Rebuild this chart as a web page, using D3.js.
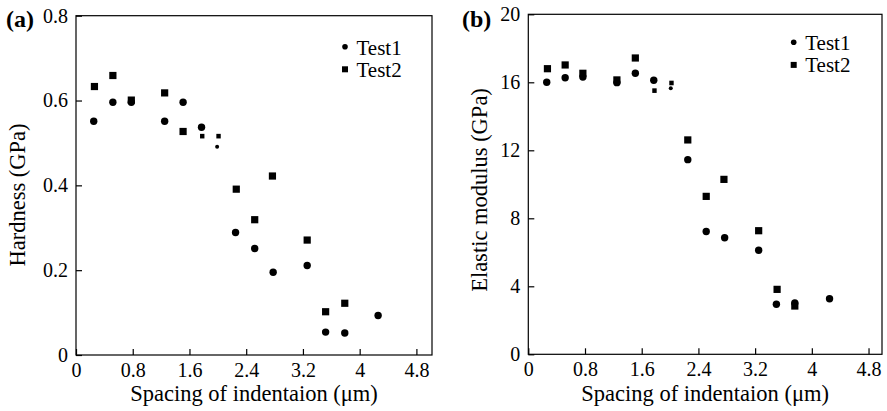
<!DOCTYPE html>
<html>
<head>
<meta charset="utf-8">
<script src="https://cdn.jsdelivr.net/npm/d3@7"></script>
<style>
  body { margin: 0; background: white; }
  svg text { font-family: "Liberation Serif", "Times New Roman", Times, "DejaVu Serif", serif !important; fill: #000; }
</style>
</head>
<body>
<svg id="chart" width="887" height="411"></svg>
<script>
"use strict";

//Values (spacing in um)
var xTicks = [0, 0.8, 1.6, 2.4, 3.2, 4, 4.8];
var hardTicks = [0, 0.2, 0.4, 0.6, 0.8];
var modTicks = [0, 4, 8, 12, 16, 20];
var seriesNames = ["Test1", "Test2"];

//(a) hardness
var hardX1 = [0.25, 0.52, 0.78, 1.25, 1.51, 1.77, 1.99, 2.25, 2.52, 2.78, 3.26, 3.52, 3.79, 4.26];
var hardY1 = [0.551, 0.596, 0.596, 0.551, 0.596, 0.537, 0.491, 0.289, 0.251, 0.195, 0.211, 0.054, 0.052, 0.093];
var hardX2 = [0.26, 0.52, 0.78, 1.25, 1.51, 1.78, 2.01, 2.26, 2.52, 2.77, 3.26, 3.52, 3.79];
var hardY2 = [0.633, 0.659, 0.601, 0.618, 0.527, 0.516, 0.516, 0.391, 0.319, 0.422, 0.271, 0.102, 0.122];

//(b) elastic modulus
var modX1 = [0.26, 0.52, 0.77, 1.25, 1.51, 1.77, 2.01, 2.25, 2.51, 2.77, 3.25, 3.50, 3.76, 4.25];
var modY1 = [16.0, 16.27, 16.31, 15.98, 16.53, 16.12, 15.65, 11.45, 7.22, 6.86, 6.12, 2.94, 3.02, 3.27];
var modX2 = [0.27, 0.52, 0.77, 1.25, 1.51, 1.78, 2.02, 2.25, 2.51, 2.76, 3.25, 3.51, 3.76];
var modY2 = [16.8, 17.02, 16.53, 16.14, 17.43, 15.51, 15.96, 12.61, 9.29, 10.29, 7.27, 3.82, 2.84];

//a few points are printed with a smaller marker in the original
var smallIdx1 = [6];
var smallIdx2 = [5, 6];

var svg = d3.select("#chart");

//Draw one framed scatter panel
function buildPanel(p) {
  var x = d3.scaleLinear().domain([0, p.xMax]).range([p.left, p.right]);
  var y = d3.scaleLinear().domain([0, p.yMax]).range([p.bottom, p.top]);
  var g = svg.append("g");

  //frame
  g.append("rect")
    .attr("x", p.left).attr("y", p.top)
    .attr("width", p.right - p.left).attr("height", p.bottom - p.top)
    .attr("fill", "none").attr("stroke", "#000").attr("stroke-width", 1.2);

  //bottom axis, ticks pointing inward
  var xAx = g.append("g")
    .attr("transform", "translate(0," + p.bottom + ")")
    .call(d3.axisBottom(x).tickValues(xTicks).tickSizeInner(-6).tickSizeOuter(0)
      .tickPadding(8).tickFormat(function(d) { return String(d); }));
  xAx.attr("font-family", null);
  xAx.select(".domain").remove();
  xAx.selectAll("line").attr("stroke", "#000").attr("stroke-width", 1.2);
  xAx.selectAll("text").attr("font-size", "20px");

  var yAx = g.append("g")
    .attr("transform", "translate(" + p.left + ",0)")
    .call(d3.axisLeft(y).tickValues(p.yTicks).tickSizeInner(-6).tickSizeOuter(0)
      .tickPadding(8).tickFormat(function(d) { return String(d); }));
  yAx.attr("font-family", null);
  yAx.select(".domain").remove();
  yAx.selectAll("line").attr("stroke", "#000").attr("stroke-width", 1.2);
  yAx.selectAll("text").attr("font-size", "20px");

  //axis titles
  g.append("text")
    .attr("x", (p.left + p.right) / 2).attr("y", 401)
    .attr("text-anchor", "middle").attr("font-size", "22.5px")
    .text("Spacing of indentaion (\u03bcm)");
  g.append("text")
    .attr("transform", "translate(" + p.yTitleX + "," + p.yTitleY + ") rotate(-90)")
    .attr("text-anchor", "middle").attr("font-size", "22.5px")
    .text(p.yTitle);

  //panel letter
  g.append("text")
    .attr("x", p.letterX).attr("y", 27)
    .attr("font-size", "24px").attr("font-weight", "bold")
    .text(p.letter);

  //Test1 circles
  g.append("g").selectAll("circle")
    .data(p.x1.map(function(v, i) { return {x: v, y: p.y1[i], i: i}; }))
    .enter().append("circle")
      .attr("cx", function(d) { return x(d.x); })
      .attr("cy", function(d) { return y(d.y); })
      .attr("r", function(d) { return smallIdx1.indexOf(d.i) >= 0 ? 2 : 3.7; })
      .attr("fill", "#000");

  //Test2 squares
  g.append("g").selectAll("rect")
    .data(p.x2.map(function(v, i) { return {x: v, y: p.y2[i], i: i}; }))
    .enter().append("rect")
      .attr("width", function(d) { return smallIdx2.indexOf(d.i) >= 0 ? 4.4 : 7.2; })
      .attr("height", function(d) { return smallIdx2.indexOf(d.i) >= 0 ? 4.6 : 7.2; })
      .attr("x", function(d) { return x(d.x) - (smallIdx2.indexOf(d.i) >= 0 ? 2.2 : 3.6); })
      .attr("y", function(d) { return y(d.y) - (smallIdx2.indexOf(d.i) >= 0 ? 2.3 : 3.6); })
      .attr("fill", "#000");

  //legend
  var lg = g.append("g").attr("transform", "translate(" + p.legX + "," + p.legY + ")");
  lg.append("circle").attr("cx", 0).attr("cy", 0).attr("r", 2.8).attr("fill", "#000");
  lg.append("rect").attr("x", -3).attr("y", 19.6).attr("width", 6).attr("height", 6).attr("fill", "#000");
  lg.selectAll("text").data(seriesNames).enter().append("text")
    .attr("x", 11.5).attr("y", function(d, i) { return 8 + i * 22; })
    .attr("font-size", "21px")
    .text(function(d) { return d; });
}

buildPanel({
  left: 76, right: 432, top: 15.7, bottom: 355,
  xMax: 5.02, yMax: 0.8, yTicks: hardTicks,
  x1: hardX1, y1: hardY1, x2: hardX2, y2: hardY2,
  yTitle: "Hardness (GPa)", yTitleX: 25, yTitleY: 195,
  letter: "(a)", letterX: 6,
  legX: 345, legY: 46.7
});

buildPanel({
  left: 528.3, right: 882, top: 14.3, bottom: 354.3,
  xMax: 4.99, yMax: 20, yTicks: modTicks,
  x1: modX1, y1: modY1, x2: modX2, y2: modY2,
  yTitle: "Elastic modulus (GPa)", yTitleX: 487, yTitleY: 190,
  letter: "(b)", letterX: 462,
  legX: 793.7, legY: 42.3
});
</script>
</body>
</html>
